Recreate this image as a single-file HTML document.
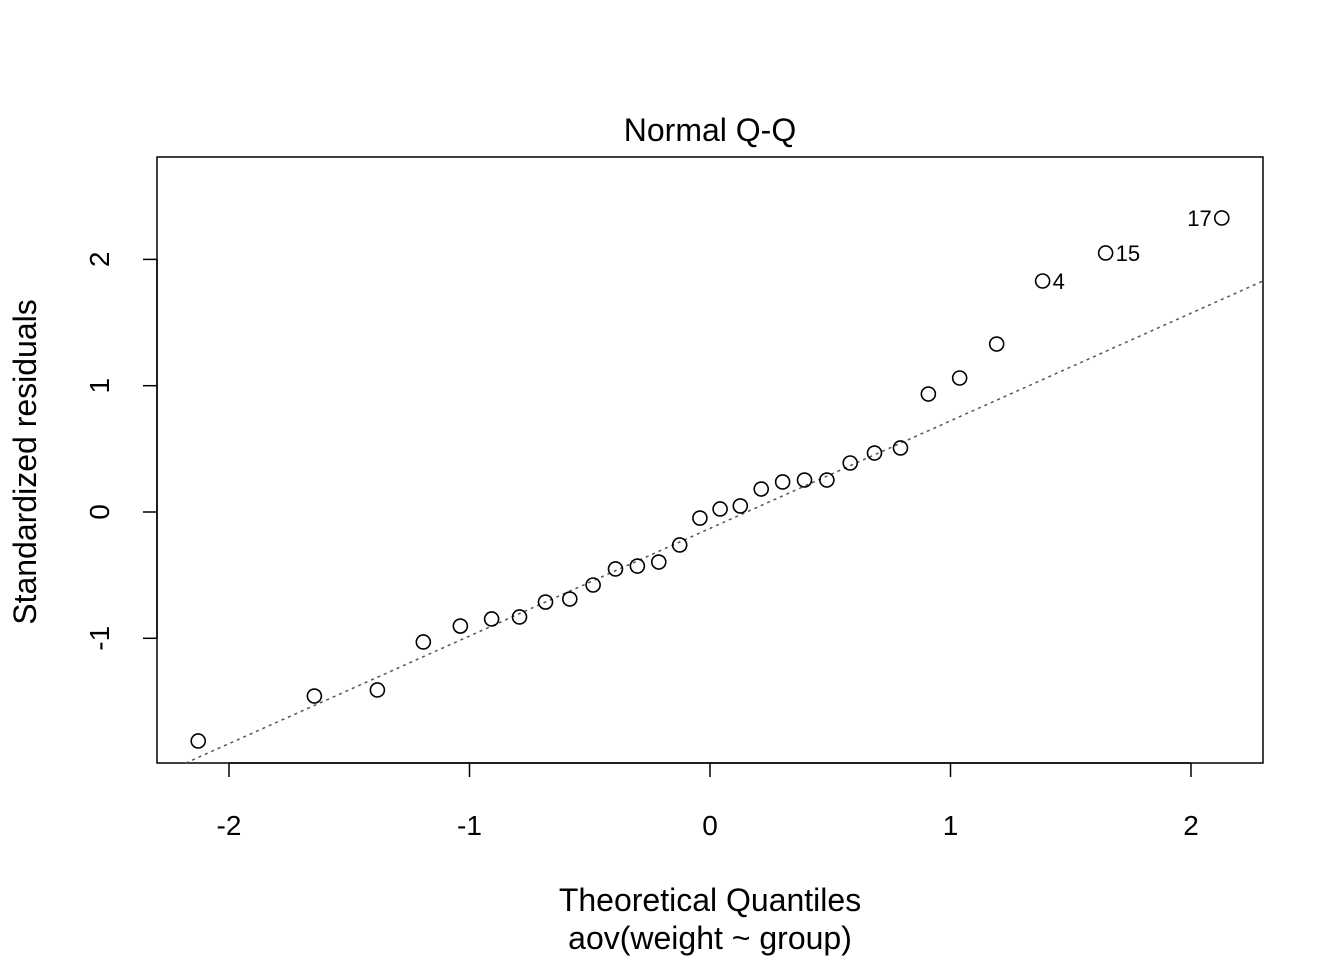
<!DOCTYPE html>
<html><head><meta charset="utf-8"><style>
html,body{margin:0;padding:0;background:#fff;}
svg{display:block;font-family:"Liberation Sans",Arial,sans-serif;}
</style></head><body>
<svg id="chart" width="1344" height="960" viewBox="0 0 1344 960">
<text x="710" y="141" font-size="32" text-anchor="middle">Normal Q-Q</text>
<rect x="157" y="157" width="1106" height="606" fill="none" stroke="#000" stroke-width="1.5"/>
<g id="xaxis"></g>
<g id="yaxis"></g>
<g id="refline"></g>
<g id="points"></g>
<text x="710" y="911" font-size="32" text-anchor="middle">Theoretical Quantiles</text>
<text x="710" y="949" font-size="32" text-anchor="middle">aov(weight ~ group)</text>
<text transform="translate(36,462) rotate(-90)" font-size="32" text-anchor="middle">Standardized residuals</text>
</svg>
<script>
const theoretical = [-2.128,-1.645,-1.383,-1.192,-1.038,-0.908,-0.792,-0.684,-0.583,-0.486,-0.393,-0.302,-0.213,-0.126,-0.042,0.042,0.126,0.213,0.302,0.393,0.486,0.583,0.684,0.792,0.908,1.038,1.192,1.383,1.645,2.128];
const residuals = [-1.813,-1.457,-1.409,-1.029,-0.903,-0.847,-0.831,-0.713,-0.689,-0.578,-0.451,-0.428,-0.396,-0.261,-0.048,0.024,0.048,0.182,0.238,0.253,0.253,0.388,0.467,0.507,0.934,1.061,1.330,1.829,2.051,2.328];
const pointLabels = ["","","","","","","","","","","","","","","","","","","","","","","","","","","","4","15","17"];
const xTicks = [-2,-1,0,1,2];
const yTicks = [-1,0,1,2];
const lineIntercept = -0.130;
const lineSlope = 0.852;

const NS="http://www.w3.org/2000/svg";
const X0=157,X1=1263,Y0=157,Y1=763;
const sx=v=>710+v*240.5;
const sy=v=>512-v*126.3;
function mk(tag,attrs,parent){const e=document.createElementNS(NS,tag);for(const k in attrs)e.setAttribute(k,attrs[k]);parent.appendChild(e);return e;}
const xg=document.getElementById('xaxis'),yg=document.getElementById('yaxis'),lg=document.getElementById('refline'),pg=document.getElementById('points');
mk('line',{x1:sx(xTicks[0]),x2:sx(xTicks[xTicks.length-1]),y1:Y1,y2:Y1,stroke:'#000','stroke-width':1.5},xg);
xTicks.forEach(t=>{
  const l=mk('line',{x1:sx(t),x2:sx(t),y1:Y1,y2:Y1+14,stroke:'#000','stroke-width':1.5},xg);
  
  
  const tx=mk('text',{x:sx(t),y:835,'font-size':28,'text-anchor':'middle'},xg);
  tx.textContent=t;
  
  
});
mk('line',{x1:X0,x2:X0,y1:sy(yTicks[0]),y2:sy(yTicks[yTicks.length-1]),stroke:'#000','stroke-width':1.5},yg);
yTicks.forEach(t=>{
  const l=mk('line',{x1:X0-14,x2:X0,y1:sy(t),y2:sy(t),stroke:'#000','stroke-width':1.5},yg);
  
  
  const tx=mk('text',{transform:`translate(109,${sy(t)}) rotate(-90)`,'font-size':28,'text-anchor':'middle'},yg);
  tx.textContent=t;
  
  
});
let xa=(X0-710)/240.5, xb=(X1-710)/240.5;
const ymin=(512-Y1)/126.3;
if(lineSlope>0){const xc=(ymin-lineIntercept)/lineSlope; if(xc>xa) xa=xc;}
const rl=mk('line',{x1:sx(xa),y1:sy(lineIntercept+lineSlope*xa),x2:sx(xb),y2:sy(lineIntercept+lineSlope*xb),stroke:'#555','stroke-width':1.5,'stroke-dasharray':'3,4'},lg);


theoretical.forEach((v,i)=>{
  const c=mk('circle',{cx:sx(v),cy:sy(residuals[i]),r:7,fill:'none',stroke:'#000','stroke-width':1.6},pg);
  
  
  const lab=pointLabels[i];
  if(lab){
    const left = i===theoretical.length-1;
    const t=mk('text',{x:sx(v)+(left?-10:10),y:sy(residuals[i])+8,'font-size':22,'text-anchor':left?'end':'start'},pg);
    t.textContent=lab;
    
    
  }
});
</script>
</body></html>
